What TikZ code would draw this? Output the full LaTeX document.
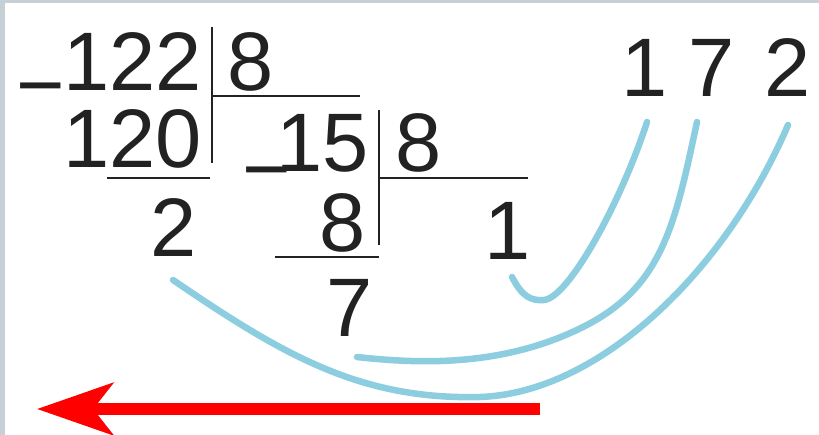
\documentclass[tikz,border=0pt]{standalone}
\usepackage{fontspec}
\setmainfont{Liberation Sans}
\usetikzlibrary{arrows.meta}
\definecolor{curveblue}{RGB}{140,206,224}
\definecolor{framegrey}{RGB}{198,208,214}
\definecolor{inkc}{RGB}{34,34,34}
\newcommand{\digfont}{\fontsize{83pt}{83pt}\selectfont}
\begin{document}
\begin{tikzpicture}[x=1pt,y=-1pt,
  digit/.style={inner sep=0pt, outer sep=0pt, anchor=base west, font=\digfont, text=inkc},
  minussign/.style={inner sep=0pt, outer sep=0pt, anchor=base, font=\digfont, text=inkc},
  rulel/.style={draw=inkc, line width=2.8pt},
  link/.style={draw=curveblue, line width=6.5pt, line cap=round},
  redarrow/.style={draw=red, line width=12pt, -{Stealth[length=76pt, width=52pt, inset=20pt]}}]
\useasboundingbox (0,0) rectangle (819,435);
\fill[white] (0,0) rectangle (819,435);
\fill[framegrey] (0,0) rectangle (819,3.5);
\fill[framegrey] (0,0) rectangle (4.5,435);

% numbers
\node[digit] (n122) at (63,91) {122};
\node[minussign] (m1) at (41,114) {−};
\node[digit] (d1) at (227,91) {8};
\node[digit] (n120) at (63,168) {120};
\node[minussign] (m2) at (267,198) {−};
\node[digit] (n15) at (276,172) {15};
\node[digit] (d2) at (395,172) {8};
\node[digit] (r1) at (150.6,257) {2};
\node[digit] (n8) at (319,252) {8};
\node[digit] (q1) at (484,260) {1};
\node[digit] (r2) at (326,337) {7};
\node[digit] (a1) at (621,97) {1};
\node[digit] (a2) at (688,97) {7};
\node[digit] (a3) at (764.6,97) {2};

% division rules
\coordinate (b1t) at (212,27);  \coordinate (b1b) at (212,163);
\coordinate (h1l) at (212,96);  \coordinate (h1r) at (360,96);
\coordinate (u1l) at (107,178); \coordinate (u1r) at (210,178);
\coordinate (b2t) at (379,110); \coordinate (b2b) at (379,245);
\coordinate (h2l) at (379,178); \coordinate (h2r) at (528,178);
\coordinate (u2l) at (275,257); \coordinate (u2r) at (379,257);
\draw[rulel] (b1t) -- (b1b);
\draw[rulel] (h1l) -- (h1r);
\draw[rulel] (u1l) -- (u1r);
\draw[rulel] (b2t) -- (b2b);
\draw[rulel] (h2l) -- (h2r);
\draw[rulel] (u2l) -- (u2r);

% blue links
\coordinate (c1s) at (512,277); \coordinate (c1e) at (647,122);
\coordinate (c2s) at (357,357); \coordinate (c2e) at (697,122);
\coordinate (c3s) at (173,280); \coordinate (c3e) at (788,125);
\draw[link] (c1s) .. controls (522,296) and (530,301) .. (544,300)
  .. controls (568,298) and (620,205) .. (c1e);
\draw[link] (c2s) .. controls (420,364) and (503,367) .. (583,327)
  .. controls (663,287) and (675,224) .. (c2e);
\draw[link] (c3s) .. controls (283,355) and (360,400) .. (480,397)
  .. controls (600,393) and (726,270) .. (c3e);

% red arrow
\coordinate (as) at (540,409); \coordinate (ae) at (37,409);
\draw[redarrow] (as) -- (ae);
\end{tikzpicture}
\end{document}
